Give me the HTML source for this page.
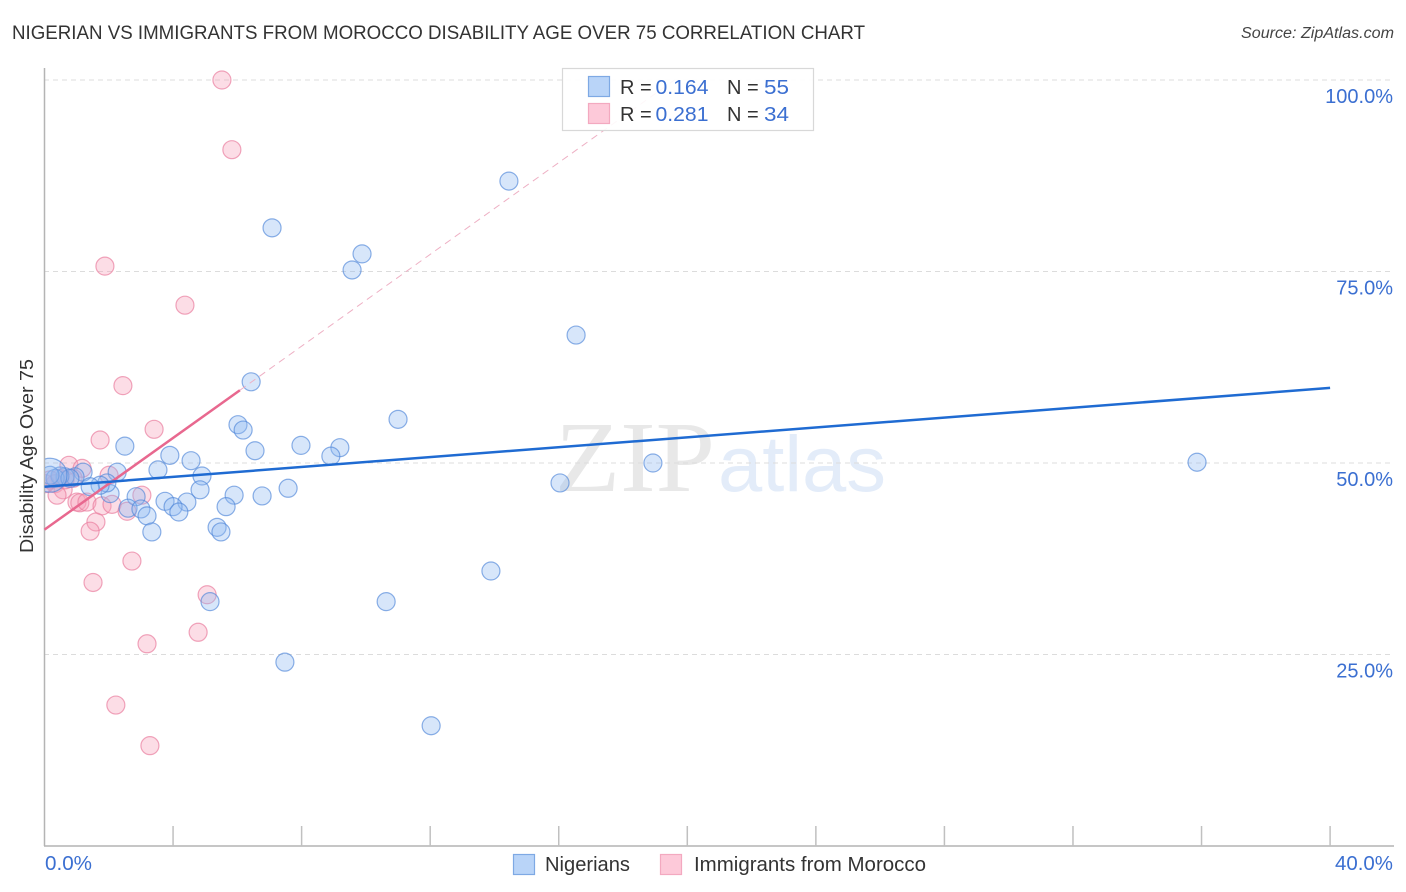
<!DOCTYPE html>
<html lang="en">
<head>
<meta charset="utf-8">
<title>Nigerian vs Immigrants from Morocco Disability Age Over 75 Correlation Chart</title>
<style>
html,body{margin:0;padding:0;background:#fff;width:1406px;height:892px;overflow:hidden}
svg{display:block;font-family:"Liberation Sans",sans-serif}
</style>
</head>
<body>
<svg id="chart" xmlns="http://www.w3.org/2000/svg" width="1406" height="892" viewBox="0 0 1406 892">
  <defs>
    <clipPath id="plot-clip"><rect x="45" y="60" width="1349" height="786"/></clipPath>
  </defs>
  <text x="12" y="39" font-size="19.5" fill="#333" textLength="853" lengthAdjust="spacingAndGlyphs">NIGERIAN VS IMMIGRANTS FROM MOROCCO DISABILITY AGE OVER 75 CORRELATION CHART</text>
  <text x="1241" y="38" font-size="15.5" font-style="italic" fill="#444" textLength="153" lengthAdjust="spacingAndGlyphs">Source: ZipAtlas.com</text>
  <g>
    <text x="555" y="491" font-family="'Liberation Serif',serif" font-size="101" fill="#e8e8e8" textLength="160" lengthAdjust="spacingAndGlyphs">ZIP</text>
    <text x="718" y="491" font-size="79" fill="#e3ecf9" textLength="168" lengthAdjust="spacingAndGlyphs">atlas</text>
  </g>
  <g id="grid"></g>
  <g id="axes"></g>
  <g id="points" clip-path="url(#plot-clip)"></g>
  <g id="trends"></g>
  <text transform="translate(33,456) rotate(-90)" font-size="18" fill="#333" text-anchor="middle" textLength="194" lengthAdjust="spacingAndGlyphs">Disability Age Over 75</text>
  <g id="legend"></g>
  <g id="bottom-legend"></g>
</svg>
<script>
var nigerianX = [14.45,7.08,9.88,9.57,16.54,6.43,11.0,6.02,6.18,2.50,6.55,7.98,9.19,8.91,3.90,4.56,3.53,2.26,4.90,1.20,18.93,35.86,16.04,7.58,6.77,5.90,4.84,2.04,1.94,1.73,1.42,3.75,2.85,4.43,4.00,4.18,5.65,2.60,3.00,3.19,5.37,5.49,3.34,13.89,10.63,5.15,7.48,12.03,0.95,0.64,0.48,0.33,0.17,0.79,0.17];
var nigerianY = [86.8,80.7,77.3,75.2,66.7,60.6,55.7,55.0,54.3,52.2,51.6,52.3,52.0,50.9,51.0,50.3,49.1,48.8,48.3,48.8,50.0,50.1,47.4,46.7,45.7,45.8,46.5,46.0,47.4,47.1,46.9,45.0,45.6,44.9,44.3,43.6,44.3,44.1,44.0,43.1,41.6,41.0,41.0,35.9,31.9,31.9,24.0,15.7,48.2,48.2,48.3,48.0,48.4,48.0,48.4];
var moroccoX = [5.52,5.83,1.88,4.37,2.44,3.41,1.73,0.76,1.17,2.01,0.48,0.17,0.33,0.58,0.39,1.01,1.10,1.32,1.79,2.10,3.03,2.57,1.60,1.42,2.72,1.51,5.06,4.78,3.19,2.22,3.28,0.89,0.02,0.64];
var moroccoY = [100,90.9,75.7,70.6,60.1,54.4,53.0,49.7,49.3,48.4,48.0,47.8,47.3,46.5,45.8,44.9,44.8,44.9,44.4,44.6,45.8,43.7,42.3,41.1,37.2,34.4,32.8,27.9,26.4,18.4,13.1,48.0,47.3,47.8];
var nigerianTrendX = [0, 40];
var nigerianTrendY = [46.9, 59.8];
var moroccoTrendX = [0, 6.08];
var moroccoTrendY = [41.3, 59.5];
var moroccoTrendExtX = [6.08, 19.6];
var moroccoTrendExtY = [59.5, 100];
var yTickValues = [25, 50, 75, 100];
var yTickLabels = ["25.0%", "50.0%", "75.0%", "100.0%"];
var xTickValues = [4, 8, 12, 16, 20, 24, 28, 32, 36, 40];
var xEdgeLabels = ["0.0%", "40.0%"];
var legendR = ["0.164", "0.281"];
var legendN = ["55", "34"];
var seriesNames = ["Nigerians", "Immigrants from Morocco"];

var NS = "http://www.w3.org/2000/svg";
function xScale(v){ return 44.5 + v * 32.14; }
function yScale(v){ return 846 - v * 7.66; }
function mk(tag, parent, attrs, text){
  var el = document.createElementNS(NS, tag);
  for (var k in attrs) el.setAttribute(k, attrs[k]);
  if (text !== undefined) el.textContent = text;
  parent.appendChild(el);
  return el;
}
var BLUE_TEXT = "#3b6fd1";
var grid = document.getElementById("grid");
var axes = document.getElementById("axes");
var pts = document.getElementById("points");
var trends = document.getElementById("trends");
var legend = document.getElementById("legend");
var bottom = document.getElementById("bottom-legend");

yTickValues.forEach(function(v, i){
  var g = mk("line", grid, {x1:44, x2:1394, y1:yScale(v), y2:yScale(v), stroke:"#dcdcdc", "stroke-width":1, "stroke-dasharray":"5 4"});
  
  
  var t = mk("text", axes, {x:1393, y:yScale(v) + 23, "font-size":20, fill:BLUE_TEXT, "text-anchor":"end"}, yTickLabels[i]);
  
  
});

var yAxis = mk("line", axes, {x1:44.5, x2:44.5, y1:68, y2:846, stroke:"#b4b4b4", "stroke-width":1.5});


var xAxis = mk("line", axes, {x1:44, x2:1394, y1:846, y2:846, stroke:"#b4b4b4", "stroke-width":1.5});



xTickValues.forEach(function(v){
  var t = mk("line", axes, {x1:xScale(v), x2:xScale(v), y1:826, y2:846, stroke:"#c0c0c0", "stroke-width":1.5});
  
  
});
var x0 = mk("text", axes, {x:45, y:870, "font-size":20, fill:BLUE_TEXT, textLength:47, lengthAdjust:"spacingAndGlyphs"}, xEdgeLabels[0]);


var x1 = mk("text", axes, {x:1335, y:870, "font-size":20, fill:BLUE_TEXT, textLength:58, lengthAdjust:"spacingAndGlyphs"}, xEdgeLabels[1]);



moroccoX.forEach(function(v, i){
  var c = mk("circle", pts, {cx:xScale(v), cy:yScale(moroccoY[i]), r:9, fill:"#f8a0ba", "fill-opacity":0.36, stroke:"#ea7f9f", "stroke-opacity":0.7, "stroke-width":1.2});
  
  
});
nigerianX.forEach(function(v, i){
  var big = i === nigerianX.length - 1;
  var c = mk("circle", pts, {cx:xScale(v), cy:yScale(nigerianY[i]), r:big ? 17 : 9, fill:"#8fbaf0", "fill-opacity":0.36, stroke:"#4f86d8", "stroke-opacity":0.65, "stroke-width":1.2});
  
  
});

var tExt = mk("line", trends, {x1:xScale(moroccoTrendExtX[0]), y1:yScale(moroccoTrendExtY[0]), x2:xScale(moroccoTrendExtX[1]), y2:yScale(moroccoTrendExtY[1]), stroke:"#eeb0c4", "stroke-width":1, "stroke-dasharray":"7 5"});


var tM = mk("line", trends, {x1:xScale(moroccoTrendX[0]), y1:yScale(moroccoTrendY[0]), x2:xScale(moroccoTrendX[1]), y2:yScale(moroccoTrendY[1]), stroke:"#e8688f", "stroke-width":2.5});


var tN = mk("line", trends, {x1:xScale(nigerianTrendX[0]), y1:yScale(nigerianTrendY[0]), x2:xScale(nigerianTrendX[1]), y2:yScale(nigerianTrendY[1]), stroke:"#1f6bd2", "stroke-width":2.5});



var box = mk("rect", legend, {x:562.5, y:68.5, width:251, height:62, fill:"#fff", "fill-opacity":0.9, stroke:"#d8d8d8", "stroke-width":1.2});


var swFill = ["#b9d4f8", "#fdc9d9"];
var swStroke = ["#7ea9e4", "#f3a9c0"];
[0, 1].forEach(function(i){
  var top = 76 + i * 27;
  var s = mk("rect", legend, {x:588.5, y:top + 0.5, width:21, height:20, fill:swFill[i], stroke:swStroke[i], "stroke-width":1.2});
  
  
  var baseY = top + 18;
  var a = mk("text", legend, {x:620, y:baseY, "font-size":20, fill:"#333"}, "R =");
  
  
  var b = mk("text", legend, {x:655.5, y:baseY, "font-size":20.5, fill:BLUE_TEXT, textLength:53, lengthAdjust:"spacingAndGlyphs"}, legendR[i]);
  
  
  var c = mk("text", legend, {x:727, y:baseY, "font-size":20, fill:"#333"}, "N =");
  
  
  var d = mk("text", legend, {x:764, y:baseY, "font-size":20.5, fill:BLUE_TEXT, textLength:25, lengthAdjust:"spacingAndGlyphs"}, legendN[i]);
  
  
});

var bottomSwatchX = [513.5, 660.5];
var bottomTextX = [545, 694];
var bottomTextW = [85, 232];
seriesNames.forEach(function(name, i){
  var s = mk("rect", bottom, {x:bottomSwatchX[i], y:854.5, width:21, height:20, fill:swFill[i], stroke:swStroke[i], "stroke-width":1.2});
  
  
  var t = mk("text", bottom, {x:bottomTextX[i], y:871, "font-size":20, fill:"#333", textLength:bottomTextW[i], lengthAdjust:"spacingAndGlyphs"}, name);
  
  
});
</script>
</body>
</html>
